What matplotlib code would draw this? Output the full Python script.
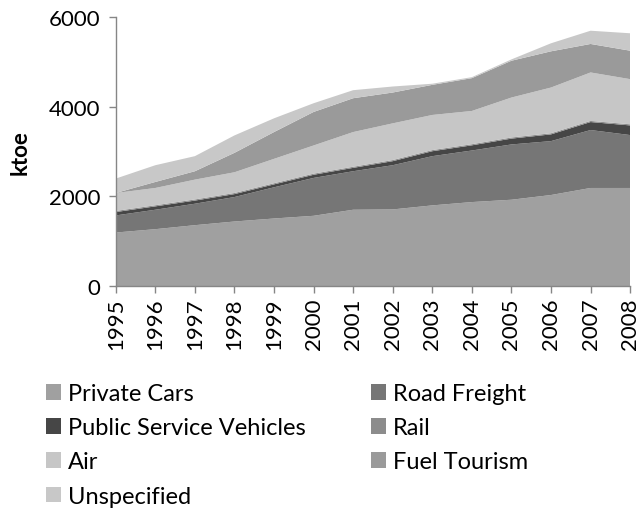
import matplotlib
matplotlib.use("Agg")
import matplotlib.pyplot as plt
from matplotlib.patches import Patch

plt.rcParams['font.family'] = ['Lato', 'DejaVu Sans']

years = [1995, 1996, 1997, 1998, 1999, 2000, 2001, 2002, 2003, 2004, 2005, 2006, 2007, 2008]
private_cars = [1194, 1269, 1358, 1440, 1507, 1567, 1702, 1709, 1799, 1873, 1925, 2030, 2187, 2187]
road_freight = [381, 433, 478, 545, 695, 844, 858, 985, 1097, 1149, 1232, 1201, 1291, 1179]
public_service = [75, 75, 70, 65, 65, 70, 75, 90, 110, 115, 130, 150, 178, 215]
rail = [25, 25, 25, 25, 25, 25, 25, 25, 25, 25, 25, 25, 25, 25]
air = [400, 385, 442, 462, 544, 628, 773, 818, 783, 741, 890, 1019, 1080, 1006]
fuel_tourism = [0, 134, 187, 433, 597, 747, 754, 687, 671, 731, 820, 807, 635, 634]
unspecified = [321, 373, 336, 388, 306, 194, 179, 134, 25, 22, 30, 179, 295, 388]

series_names = ["Private Cars", "Road Freight", "Public Service Vehicles", "Rail",
                "Air", "Fuel Tourism", "Unspecified"]
colors = ["#a0a0a0", "#767676", "#464646", "#8c8c8c", "#c6c6c6", "#9a9a9a", "#c8c8c8"]
y_ticks = [0, 2000, 4000, 6000]

fig = plt.figure(figsize=(6.43, 5.10), dpi=100)
ax = fig.add_axes([0.180, 0.437, 0.800, 0.528])

data = [private_cars, road_freight, public_service, rail, air, fuel_tourism, unspecified]
polys = ax.stackplot(years, *data, colors=colors, linewidth=0)

ax.set_xlim(years[0], years[-1])
ax.set_ylim(0, 6000)
ax.set_yticks(y_ticks)
ax.set_xticks(years)
ax.set_xticklabels([str(y) for y in years], rotation=90, fontsize=16)
ax.set_yticklabels([str(v) for v in y_ticks], fontsize=16)
ax.set_ylabel("ktoe", fontsize=16, fontweight="bold")
ax.yaxis.set_label_coords(-0.165, 0.5)

for s in ["top", "right"]:
    ax.spines[s].set_visible(False)
for s in ["left", "bottom"]:
    ax.spines[s].set_color("#868686")
    ax.spines[s].set_linewidth(1.0)
ax.tick_params(axis="both", colors="#868686", length=5, width=1.0, labelcolor="black")
ax.tick_params(axis="y", pad=6)
ax.tick_params(axis="x", pad=3)

handles = [Patch(facecolor=c, edgecolor="none") for c in colors]
order = [0, 2, 4, 6, 1, 3, 5]
fig.legend([handles[i] for i in order], [series_names[i] for i in order],
           loc="upper left", bbox_to_anchor=(0.0715, 0.247), ncol=2,
           frameon=False, fontsize=17, handlelength=0.64, handleheight=0.64,
           handletextpad=0.3, columnspacing=2.75, labelspacing=0.56,
           borderaxespad=0, borderpad=0)

fig.savefig("out.png", dpi=100)
